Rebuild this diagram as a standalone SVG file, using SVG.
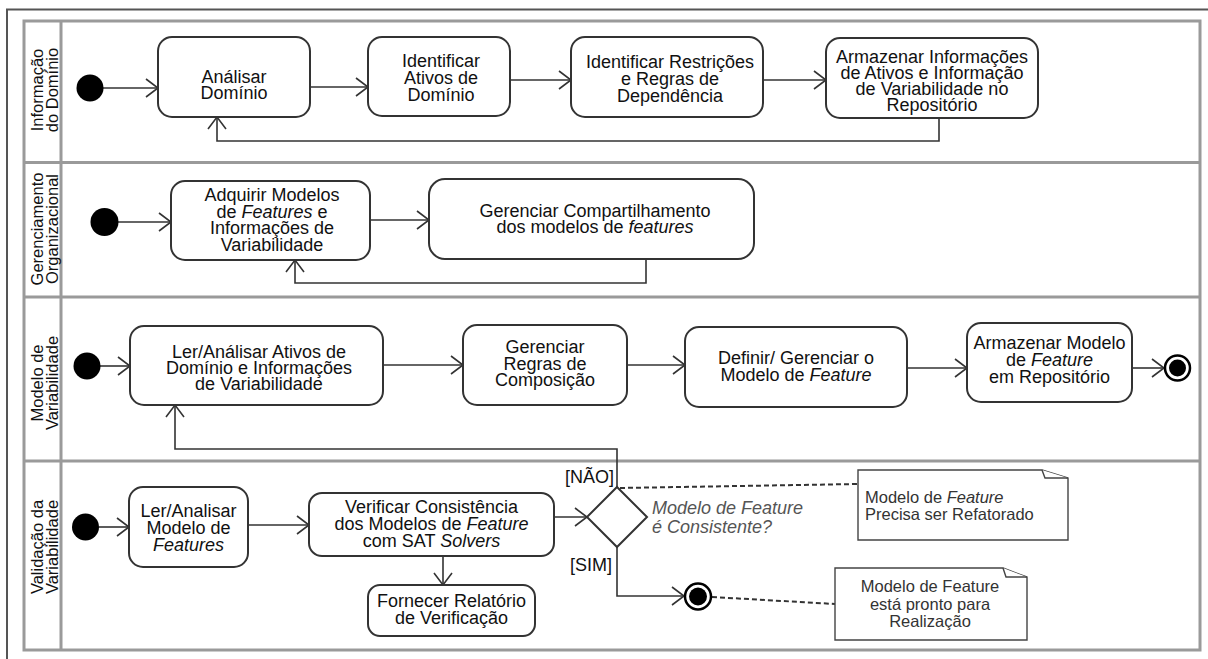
<svg xmlns="http://www.w3.org/2000/svg" width="1208" height="659" viewBox="0 0 1208 659">
  <style>
    .frame { fill: none; stroke: #555; stroke-width: 2; }
    .pool { fill: none; stroke: #9a9a9a; stroke-width: 3; }
    .act { fill: #fff; stroke: #333; stroke-width: 2; }
    .flow { fill: none; stroke: #333; stroke-width: 1.6; }
    .dash { fill: none; stroke: #333; stroke-width: 2; stroke-dasharray: 5 3; }
    .note { fill: #fff; stroke: #444; stroke-width: 1.4; }
    .t { font-family: "Liberation Sans", Arial, sans-serif; font-size: 18px; fill: #111; text-anchor: middle; }
    .hdr { font-family: "Liberation Sans", Arial, sans-serif; font-size: 16.5px; fill: #111; text-anchor: middle; }
    .nt { font-family: "Liberation Sans", Arial, sans-serif; font-size: 16.5px; fill: #333; }
    .guard { font-family: "Liberation Sans", Arial, sans-serif; font-size: 18px; fill: #111; text-anchor: end; }
    .cond { font-family: "Liberation Sans", Arial, sans-serif; font-size: 18px; fill: #555; font-style: italic; }
    .i { font-style: italic; }
  </style>
  <defs>
    <marker id="open" markerUnits="userSpaceOnUse" markerWidth="16" markerHeight="22" refX="13" refY="10" orient="auto">
      <path d="M1,1 L13,10 L1,19" fill="none" stroke="#333" stroke-width="1.6"/>
    </marker>
  </defs>

  <rect width="1208" height="659" fill="#fff"/>

  <!-- outer frame -->
  <path class="frame" d="M7,659 V9.5 H1208"/>

  <!-- swimlane pool -->
  <g id="pool">
    <rect class="pool" x="24" y="21" width="1176" height="629"/>
    <line class="pool" x1="61" y1="21" x2="61" y2="650"/>
    <line class="pool" x1="24" y1="162.5" x2="1200" y2="162.5"/>
    <line class="pool" x1="24" y1="297" x2="1200" y2="297"/>
    <line class="pool" x1="24" y1="461" x2="1200" y2="461"/>
    <text class="hdr" transform="translate(43,90) rotate(-90)"><tspan x="0" y="0">Informação</tspan><tspan x="0" dy="15">do Domínio</tspan></text>
    <text class="hdr" transform="translate(43,229) rotate(-90)"><tspan x="0" y="0">Gerenciamento</tspan><tspan x="0" dy="15">Organizacional</tspan></text>
    <text class="hdr" transform="translate(43,383) rotate(-90)"><tspan x="0" y="0">Modelo de</tspan><tspan x="0" dy="15">Variabilidade</tspan></text>
    <text class="hdr" transform="translate(43,547) rotate(-90)"><tspan x="0" y="0">Validação da</tspan><tspan x="0" dy="15">Variabilidade</tspan></text>
  </g>

  <!-- connectors -->
  <g id="connectors">
    <path class="flow" d="M103,88 H158" marker-end="url(#open)"/>
    <path class="flow" d="M310,87 H368" marker-end="url(#open)"/>
    <path class="flow" d="M510,80 H571" marker-end="url(#open)"/>
    <path class="flow" d="M763,80 H826" marker-end="url(#open)"/>
    <path class="flow" d="M939,118 V141 H217 V117" marker-end="url(#open)"/>

    <path class="flow" d="M118,222 H171" marker-end="url(#open)"/>
    <path class="flow" d="M370,220 H429" marker-end="url(#open)"/>
    <path class="flow" d="M646,259 V283 H295 V260" marker-end="url(#open)"/>

    <path class="flow" d="M100,366 H130" marker-end="url(#open)"/>
    <path class="flow" d="M383,365 H463" marker-end="url(#open)"/>
    <path class="flow" d="M627,365 H685" marker-end="url(#open)"/>
    <path class="flow" d="M907,368 H967" marker-end="url(#open)"/>
    <path class="flow" d="M1132,368 H1164" marker-end="url(#open)"/>
    <path class="flow" d="M617,487 V449 H175 V405" marker-end="url(#open)"/>

    <path class="flow" d="M99,527 H129" marker-end="url(#open)"/>
    <path class="flow" d="M248,525 H309" marker-end="url(#open)"/>
    <path class="flow" d="M554,517 H587" marker-end="url(#open)"/>
    <path class="flow" d="M443,556 V585" marker-end="url(#open)"/>
    <path class="flow" d="M617,547 V596 H684" marker-end="url(#open)"/>

    <path class="dash" d="M620,488 L858,484"/>
    <path class="dash" d="M712,597 L835,604"/>

    <text class="guard" x="614" y="483">[NÃO]</text>
    <text class="guard" x="612" y="571">[SIM]</text>
  </g>

  <!-- lane 1: Informação do Domínio -->
  <g id="start1"><circle cx="90" cy="88" r="13.5" fill="#000"/></g>
  <g id="analisar-dominio">
    <rect class="act" x="158" y="37" width="152" height="80" rx="14"/>
    <text class="t" x="234" y="83">Análisar<tspan x="234" dy="16">Domínio</tspan></text>
  </g>
  <g id="identificar-ativos">
    <rect class="act" x="368" y="37" width="142" height="79" rx="14"/>
    <text class="t" x="441" y="67">Identificar<tspan x="441" dy="17">Ativos de</tspan><tspan x="441" dy="17">Domínio</tspan></text>
  </g>
  <g id="identificar-restricoes">
    <rect class="act" x="571" y="37" width="192" height="80" rx="14"/>
    <text class="t" x="670" y="68">Identificar Restrições<tspan x="670" dy="17">e Regras de</tspan><tspan x="670" dy="17">Dependência</tspan></text>
  </g>
  <g id="armazenar-informacoes">
    <rect class="act" x="826" y="38" width="212" height="80" rx="14"/>
    <text class="t" x="932" y="63">Armazenar Informações<tspan x="932" dy="16">de Ativos e Informação</tspan><tspan x="932" dy="16">de Variabilidade no</tspan><tspan x="932" dy="16">Repositório</tspan></text>
  </g>

  <!-- lane 2: Gerenciamento Organizacional -->
  <g id="start2"><circle cx="104.5" cy="222" r="14" fill="#000"/></g>
  <g id="adquirir-modelos">
    <rect class="act" x="171" y="181" width="199" height="79" rx="14"/>
    <text class="t" x="272" y="201">Adquirir Modelos<tspan x="272" dy="16.7">de <tspan class="i">Features</tspan> e</tspan><tspan x="272" dy="16.7">Informações de</tspan><tspan x="272" dy="16.7">Variabilidade</tspan></text>
  </g>
  <g id="gerenciar-compartilhamento">
    <rect class="act" x="429" y="179" width="325" height="80" rx="16"/>
    <text class="t" x="595" y="217">Gerenciar Compartilhamento<tspan x="595" dy="16">dos modelos de <tspan class="i">features</tspan></tspan></text>
  </g>

  <!-- lane 3: Modelo de Variabilidade -->
  <g id="start3"><circle cx="87" cy="366" r="13.5" fill="#000"/></g>
  <g id="ler-analisar-ativos">
    <rect class="act" x="130" y="326" width="253" height="79" rx="14"/>
    <text class="t" x="259" y="358">Ler/Análisar Ativos de<tspan x="259" dy="16">Domínio e Informações</tspan><tspan x="259" dy="16">de Variabilidade</tspan></text>
  </g>
  <g id="gerenciar-regras">
    <rect class="act" x="463" y="325" width="164" height="80" rx="14"/>
    <text class="t" x="545" y="353">Gerenciar<tspan x="545" dy="16.5">Regras de</tspan><tspan x="545" dy="16.5">Composição</tspan></text>
  </g>
  <g id="definir-modelo">
    <rect class="act" x="685" y="327" width="222" height="80" rx="14"/>
    <text class="t" x="796" y="364">Definir/ Gerenciar o<tspan x="796" dy="17">Modelo de <tspan class="i">Feature</tspan></tspan></text>
  </g>
  <g id="armazenar-modelo">
    <rect class="act" x="967" y="323" width="165" height="79" rx="14"/>
    <text class="t" x="1049.5" y="349">Armazenar Modelo<tspan x="1049.5" dy="17">de <tspan class="i">Feature</tspan></tspan><tspan x="1049.5" dy="17">em Repositório</tspan></text>
  </g>
  <g id="end3">
    <circle cx="1177.5" cy="368" r="12.5" fill="#fff" stroke="#000" stroke-width="2.5"/>
    <circle cx="1177.5" cy="368" r="8.5" fill="#000"/>
  </g>

  <!-- lane 4: Validação da Variabilidade -->
  <g id="start4"><circle cx="85.5" cy="527" r="13.5" fill="#000"/></g>
  <g id="ler-analisar-modelo">
    <rect class="act" x="129" y="487" width="119" height="80" rx="14"/>
    <text class="t" x="188.5" y="517">Ler/Analisar<tspan x="188.5" dy="17">Modelo de</tspan><tspan x="188.5" dy="17" class="i">Features</tspan></text>
  </g>
  <g id="verificar-consistencia">
    <rect class="act" x="309" y="493" width="245" height="63" rx="13"/>
    <text class="t" x="431.5" y="513">Verificar Consistência<tspan x="431.5" dy="17">dos Modelos de <tspan class="i">Feature</tspan></tspan><tspan x="431.5" dy="17">com SAT <tspan class="i">Solvers</tspan></tspan></text>
  </g>
  <g id="fornecer-relatorio">
    <rect class="act" x="368" y="585" width="167" height="51" rx="12"/>
    <text class="t" x="451.5" y="607">Fornecer Relatório<tspan x="451.5" dy="16.5">de Verificação</tspan></text>
  </g>
  <g id="decisao">
    <path class="act" d="M617,487 L647,517 L617,547 L587,517 Z"/>
    <text class="cond" x="652" y="514">Modelo de Feature<tspan x="652" dy="19">é Consistente?</tspan></text>
  </g>
  <g id="end4">
    <circle cx="698" cy="596.5" r="13" fill="#fff" stroke="#000" stroke-width="2.5"/>
    <circle cx="698" cy="596.5" r="9" fill="#000"/>
  </g>
  <g id="nota-refatorar">
    <path class="note" d="M858,470 H1042 L1068,478 V540 H858 Z"/>
    <path class="note" d="M1042,470 L1045,478 H1068"/>
    <text class="nt" x="865" y="503">Modelo de <tspan class="i">Feature</tspan><tspan x="865" dy="17">Precisa ser Refatorado</tspan></text>
  </g>
  <g id="nota-pronto">
    <path class="note" d="M835,568 H1003 L1027,577 V640 H835 Z"/>
    <path class="note" d="M1003,568 L1006,577 H1027"/>
    <text class="nt" x="930" y="592" text-anchor="middle">Modelo de Feature<tspan x="930" dy="17.5">está pronto para</tspan><tspan x="930" dy="17.5">Realização</tspan></text>
  </g>
</svg>
